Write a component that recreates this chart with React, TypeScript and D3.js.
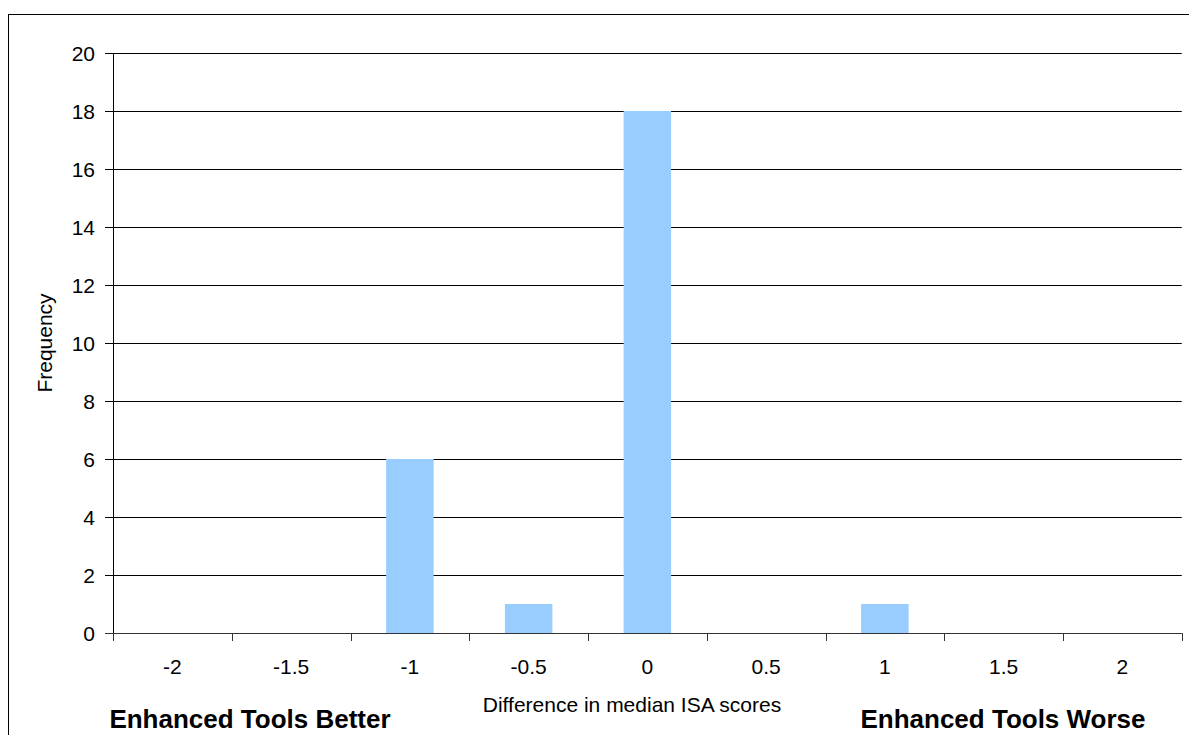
import React, { useEffect, useRef } from "react";
import * as d3 from "d3";

const categories = ["-2", "-1.5", "-1", "-0.5", "0", "0.5", "1", "1.5", "2"];
const frequencies = [0, 0, 6, 1, 18, 0, 1, 0, 0];
const yTicks = [0, 2, 4, 6, 8, 10, 12, 14, 16, 18, 20];
const xTitle = "Difference in median ISA scores";
const yTitle = "Frequency";
const leftNote = "Enhanced Tools Better";
const rightNote = "Enhanced Tools Worse";

export default function App() {
  const ref = useRef<SVGSVGElement>(null);
  useEffect(() => {
    const svg = d3.select(ref.current);
    svg.selectAll("*").remove();
    const W = 1189, H = 735;
    const left = 113, right = 1181.75, top = 53, bottom = 633;
    const font = "'Liberation Sans', Arial, sans-serif";

    svg.append("rect").attr("x", 0).attr("y", 0).attr("width", W).attr("height", H).attr("fill", "#fff");
    svg.append("rect").attr("x", 8.5).attr("y", 14.5).attr("width", 1200).attr("height", 800)
      .attr("fill", "none").attr("stroke", "#000").attr("stroke-width", 1);

    const x = d3.scaleBand<string>().domain(categories).range([left, right]).paddingInner(0).paddingOuter(0);
    const y = d3.scaleLinear().domain([0, 20]).range([bottom, top]);

    // gridlines
    svg.append("g").selectAll("line").data(yTicks.filter(t => t > 0)).join("line")
      .attr("x1", left - 8).attr("x2", right)
      .attr("y1", d => Math.round(y(d)) + 0.5).attr("y2", d => Math.round(y(d)) + 0.5)
      .attr("stroke", "#000").attr("stroke-width", 1);

    // bars
    const bw = x.bandwidth() / 2.5;
    svg.append("g").selectAll("rect").data(frequencies).join("rect")
      .attr("x", (d, i) => (x(categories[i]) as number) + (x.bandwidth() - bw) / 2)
      .attr("width", bw)
      .attr("y", d => y(d))
      .attr("height", d => bottom - y(d))
      .attr("fill", "#99CCFF");

    // axes
    svg.append("line").attr("x1", left + 0.5).attr("x2", left + 0.5).attr("y1", top).attr("y2", bottom)
      .attr("stroke", "#000");
    svg.append("line").attr("x1", left - 8).attr("x2", right).attr("y1", bottom + 0.5).attr("y2", bottom + 0.5)
      .attr("stroke", "#333");
    const bounds = categories.map(c => x(c) as number).concat([right]);
    svg.append("g").selectAll("line").data(bounds).join("line")
      .attr("x1", d => Math.round(d) + 0.5).attr("x2", d => Math.round(d) + 0.5)
      .attr("y1", bottom).attr("y2", bottom + 8).attr("stroke", "#333");

    // y tick labels
    svg.append("g").selectAll("text").data(yTicks).join("text")
      .attr("x", 95).attr("y", d => y(d)).attr("dy", "0.36em")
      .attr("text-anchor", "end").attr("font-family", font).attr("font-size", 21)
      .text(d => String(d));

    // x tick labels
    svg.append("g").selectAll("text").data(categories).join("text")
      .attr("x", d => (x(d) as number) + x.bandwidth() / 2).attr("y", 674)
      .attr("text-anchor", "middle").attr("font-family", font).attr("font-size", 21)
      .text(d => d);

    svg.append("text").attr("x", 632).attr("y", 712).attr("text-anchor", "middle")
      .attr("font-family", font).attr("font-size", 21).text(xTitle);

    svg.append("text").attr("transform", `translate(52,343) rotate(-90)`).attr("text-anchor", "middle")
      .attr("font-family", font).attr("font-size", 21).text(yTitle);

    svg.append("text").attr("x", 250).attr("y", 728).attr("text-anchor", "middle")
      .attr("font-family", font).attr("font-size", 26).attr("font-weight", "bold").text(leftNote);
    svg.append("text").attr("x", 1003).attr("y", 728).attr("text-anchor", "middle")
      .attr("font-family", font).attr("font-size", 26).attr("font-weight", "bold").text(rightNote);
  }, []);
  return (
    <svg ref={ref} width={1189} height={735}
      style={{ position: "absolute", left: 0, top: 0, display: "block" }} />
  );
}
